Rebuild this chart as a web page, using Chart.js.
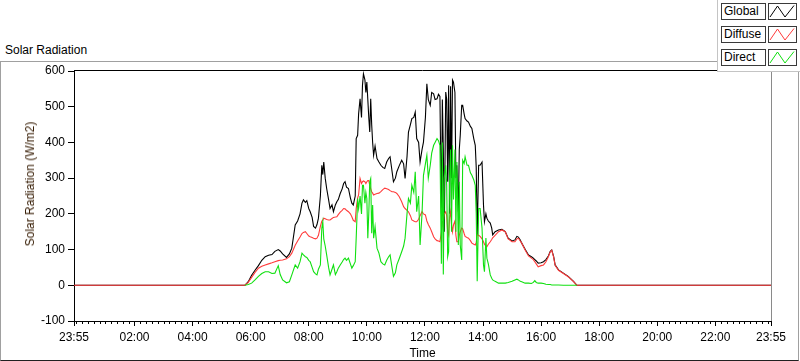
<!DOCTYPE html>
<html>
<head>
<meta charset="utf-8">
<title>Solar Radiation</title>
<script src="https://cdn.jsdelivr.net/npm/chart.js@4.4.1/dist/chart.umd.min.js"></script>
<style>
  html, body { margin: 0; padding: 0; background: #fff; }
  body { font-family: "Liberation Sans", Arial, sans-serif; font-size: 12px; color: #000; }
  #wrap { position: relative; width: 800px; height: 361px; overflow: hidden; }
  #frame {
    position: absolute; left: 0; top: 61px; width: 797px; height: 298px;
    border-top: 1px solid #a0a0a0; border-left: 1px solid #a0a0a0;
    border-right: 1px solid #a0a0a0; border-bottom: 1px solid #202020;
  }
  #caption { position: absolute; left: 5px; top: 43px; line-height: 14px; }
  #chart { position: absolute; left: 0; top: 0; }
  #ytitle {
    position: absolute; left: 30px; top: 184px; white-space: nowrap; line-height: 14px;
    transform: translate(-50%, -50%) rotate(-90deg); color: #3a2008;
  }
  #legend {
    position: absolute; left: 717px; top: -1px; width: 84px; height: 72px;
    background: #fff; border-left: 1px solid #c4c4c4; border-bottom: 1px solid #c4c4c4;
  }
  .row { position: absolute; left: 3px; height: 17px; }
  .lab {
    position: absolute; left: 0; top: 0; width: 41px; height: 15px; line-height: 15px;
    border: 1px solid #3a3a3a; padding-left: 2px; box-sizing: content-box;
  }
  .ico {
    position: absolute; left: 47px; top: 0; width: 27px; height: 15px;
    border: 1px solid #3a3a3a;
  }
  .ico svg { display: block; }
</style>
</head>
<body>
<div id="wrap">
  <div id="frame"></div>
  <div id="caption">Solar Radiation</div>
  <canvas id="chart" width="800" height="361"></canvas>
  <div id="ytitle">Solar Radiation (W/m2)</div>
  <div id="legend"></div>
</div>
<script>
// minutes after midnight (-5 = 23:55 the day before, 1435 = 23:55)
const timeMin = [
  -5, 348, 355, 362, 369, 376, 383, 390, 397, 404,
  410, 417, 421, 426, 434, 440, 445, 452, 457, 462,
  466, 469, 473, 476, 480, 483, 487, 490, 494, 497,
  500, 504, 507, 509, 511, 514, 517, 521, 524, 528,
  531, 535, 538, 541, 545, 549, 552, 555, 558, 562,
  566, 569, 572, 576, 578, 581, 583, 586, 589, 591,
  593, 596, 598, 600, 602, 604, 606, 608, 610, 612,
  614, 617, 621, 625, 629, 633, 637, 641, 645, 648,
  652, 655, 659, 662, 667, 672, 676, 679, 683, 686,
  690, 693, 697, 700, 703, 707, 710, 714, 717, 721,
  724, 727, 731, 734, 738, 741, 745, 748, 751, 754,
  756, 758, 760, 763, 765, 767, 769, 771, 773, 775,
  777, 779, 782, 784, 786, 789, 791, 793, 796, 798,
  801, 803, 807, 810, 814, 817, 821, 824, 826, 828,
  831, 834, 838, 841, 843, 846, 848, 851, 855, 858,
  860, 865, 872, 879, 886, 892, 900, 906, 910, 913,
  917, 920, 927, 934, 940, 944, 947, 950, 954, 960,
  965, 970, 975, 979, 982, 986, 989, 996, 1006, 1016,
  1027, 1034, 1435
];

const globalWm2 = [
  0, 0, 10, 28, 42, 55, 70, 80, 84, 86,
  95, 100, 96, 88, 78, 88, 104, 169, 180, 200,
  230, 239, 232, 237, 215, 206, 190, 165, 160, 170,
  188, 250, 336, 310, 345, 300, 271, 240, 215, 225,
  206, 225, 234, 240, 257, 270, 285, 290, 275, 271,
  245, 230, 225, 250, 411, 420, 480, 522, 470, 560,
  592, 575, 540, 569, 520, 470, 429, 522, 450, 400,
  364, 390, 355, 345, 336, 330, 327, 345, 355, 360,
  320, 290, 300, 318, 335, 350, 340, 299, 360, 429,
  450, 467, 470, 485, 411, 400, 345, 380, 401, 470,
  564, 520, 504, 540, 536, 520, 522, 535, 529, 200,
  520, 383, 150, 541, 520, 290, 560, 200, 557, 300,
  575, 569, 540, 300, 336, 206, 380, 420, 504, 504,
  480, 467, 460, 457, 445, 439, 410, 392, 330, 141,
  336, 336, 345, 225, 178, 200, 188, 180, 174, 160,
  141, 150, 155, 157, 150, 132, 124, 127, 137, 135,
  127, 118, 101, 85, 80, 76, 72, 68, 62, 63,
  66, 72, 82, 95, 99, 80, 57, 43, 34, 25,
  11, 0, 0
];

const diffuseWm2 = [
  0, 0, 8, 22, 36, 48, 53, 57, 60, 63,
  66, 69, 70, 71, 74, 80, 90, 112, 124, 135,
  145, 148, 150, 145, 138, 136, 134, 132, 130, 132,
  140, 165, 180, 182, 188, 186, 184, 183, 183, 187,
  190, 191, 192, 198, 205, 210, 215, 214, 210, 206,
  200, 192, 182, 178, 215, 245, 253, 299, 285, 290,
  292, 290, 285, 290, 293, 293, 280, 270, 262, 258,
  253, 255, 257, 258, 262, 268, 272, 270, 268, 265,
  262, 262, 260, 257, 248, 234, 220, 215, 210, 206,
  195, 183, 180, 178, 178, 185, 195, 206, 200, 197,
  180, 170, 160, 150, 136, 130, 125, 124, 122, 150,
  178, 178, 200, 206, 195, 150, 140, 190, 206, 170,
  150, 169, 180, 140, 122, 122, 140, 150, 160, 158,
  145, 137, 134, 132, 125, 118, 115, 113, 120, 141,
  140, 137, 130, 122, 115, 110, 108, 115, 122, 128,
  133, 140, 150, 155, 150, 130, 122, 122, 130, 132,
  124, 118, 99, 82, 76, 72, 66, 60, 52, 55,
  57, 66, 80, 94, 98, 78, 56, 42, 33, 24,
  10, 0, 0
];

// direct is only logged between sunrise and sunset
const directWm2 = [
  null, 0, 2, 6, 15, 25, 33, 38, 38, 33,
  34, 55, 30, 15, 7, 10, 29, 57, 48, 66,
  90, 85, 80, 78, 70, 66, 50, 38, 32, 29,
  45, 57, 160, 178, 130, 110, 85, 50, 29, 45,
  57, 30, 38, 48, 57, 65, 72, 76, 70, 76,
  60, 48, 55, 66, 132, 243, 215, 250, 200, 280,
  280, 230, 260, 243, 132, 200, 290, 299, 146, 225,
  132, 164, 104, 90, 66, 60, 57, 70, 80, 85,
  50, 25, 35, 57, 75, 94, 110, 132, 200, 243,
  230, 280, 260, 318, 206, 250, 113, 200, 308, 340,
  364, 300, 336, 370, 392, 400, 411, 405, 392, 60,
  400, 30, 300, 336, 280, 80, 94, 300, 380, 150,
  392, 240, 380, 150, 345, 113, 290, 113, 71, 350,
  341, 360, 336, 336, 315, 308, 295, 280, 200, 11,
  215, 215, 160, 57, 38, 132, 76, 60, 29, 20,
  15, 11, 6, 6, 6, 8, 11, 15, 17, 15,
  11, 10, 6, 6, 5, 8, 13, 8, 6, 6,
  5, 3, 2, 2, 1, 1, 1, 1, 0, 0,
  0, 0, null
];

const xTickMinutes = [-5, 120, 240, 360, 480, 600, 720, 840, 960, 1080, 1200, 1320, 1435];
const xTickLabels = ["23:55", "02:00", "04:00", "06:00", "08:00", "10:00", "12:00",
  "14:00", "16:00", "18:00", "20:00", "22:00", "23:55"];
const minorTickStep = 12;

const seriesNames = ["Global", "Diffuse", "Direct"];
const seriesColors = ["#000000", "#ff3b3b", "#10e010"];

function toPoints(values) {
  return timeMin.map((t, i) => ({ x: t, y: values[i] }));
}

const AXIS_FONT = { family: '"Liberation Sans", Arial, sans-serif', size: 12 };

// plot box top/right edges and the small minute ticks on the time axis
const plotFrame = {
  id: "plotFrame",
  afterDraw(chart) {
    const { ctx, chartArea: a, scales } = chart;
    const x = scales.x;
    ctx.save();
    ctx.lineWidth = 1;
    ctx.strokeStyle = "#000";
    ctx.beginPath();
    ctx.moveTo(a.left, Math.round(a.top) - 0.5);
    ctx.lineTo(a.right, Math.round(a.top) - 0.5);
    ctx.stroke();
    ctx.strokeStyle = "#8a8a8a";
    ctx.beginPath();
    ctx.moveTo(Math.round(a.right) + 0.5, a.top);
    ctx.lineTo(Math.round(a.right) + 0.5, a.bottom);
    ctx.stroke();
    ctx.strokeStyle = "#000";
    ctx.beginPath();
    for (let m = 0; m < 1440; m += minorTickStep) {
      if (m > 0 && m % 120 === 0) continue;
      const px = Math.round(x.getPixelForValue(m)) + 0.5;
      ctx.moveTo(px, a.bottom);
      ctx.lineTo(px, a.bottom + 3);
    }
    ctx.stroke();
    ctx.restore();
  },
};

function buildLegend() {
  const root = document.getElementById("legend");
  seriesNames.forEach((name, i) => {
    const row = document.createElement("div");
    row.className = "row";
    row.style.top = 4 + i * 23 + "px";
    row.innerHTML = `
      <span class="lab">${name}</span>
      <span class="ico"><svg width="27" height="15" viewBox="0 0 27 15">
        <polyline points="1,13 8.5,2 16,13 25,1.5" fill="none"
          stroke="${seriesColors[i]}" stroke-width="1"/>
      </svg></span>`;
    root.appendChild(row);
  });
}

function drawChart() {
  const canvas = document.getElementById("chart");
  const datasets = [globalWm2, diffuseWm2, directWm2].map((vals, i) => ({
    label: seriesNames[i],
    data: toPoints(vals),
    borderColor: seriesColors[i],
    backgroundColor: seriesColors[i],
    borderWidth: 1.1,
    pointRadius: 0,
    tension: 0,
    spanGaps: false,
    order: 3 - i,
  }));

  new Chart(canvas, {
    type: "line",
    data: { datasets },
    plugins: [plotFrame],
    options: {
      responsive: false,
      animation: false,
      events: [],
      layout: { padding: { top: 71, right: 29, left: 0, bottom: 0 } },
      plugins: {
        legend: { display: false },
        tooltip: { enabled: false },
      },
      scales: {
        x: {
          type: "linear",
          min: -5,
          max: 1435,
          afterBuildTicks(scale) {
            scale.ticks = xTickMinutes.map((v) => ({ value: v }));
          },
          afterFit(scale) {
            scale.height = 40;
          },
          ticks: {
            autoSkip: false,
            maxRotation: 0,
            minRotation: 0,
            padding: 4,
            color: "#000",
            font: AXIS_FONT,
            callback(value, idx) {
              return xTickLabels[idx];
            },
          },
          grid: { drawOnChartArea: false, drawTicks: true, tickLength: 5, color: "#000" },
          border: { display: true, color: "#000", width: 1 },
          title: {
            display: true,
            text: "Time",
            color: "#000",
            font: AXIS_FONT,
            padding: { top: 0, bottom: 0 },
          },
        },
        y: {
          min: -100,
          max: 600,
          afterFit(scale) {
            scale.width = 74;
          },
          ticks: {
            stepSize: 100,
            padding: 3,
            color: "#000",
            font: AXIS_FONT,
          },
          grid: { drawOnChartArea: false, drawTicks: true, tickLength: 6, color: "#000" },
          border: { display: true, color: "#000", width: 1 },
        },
      },
    },
  });
}

document.addEventListener("DOMContentLoaded", () => {
  buildLegend();
  drawChart();
});
</script>
</body>
</html>
